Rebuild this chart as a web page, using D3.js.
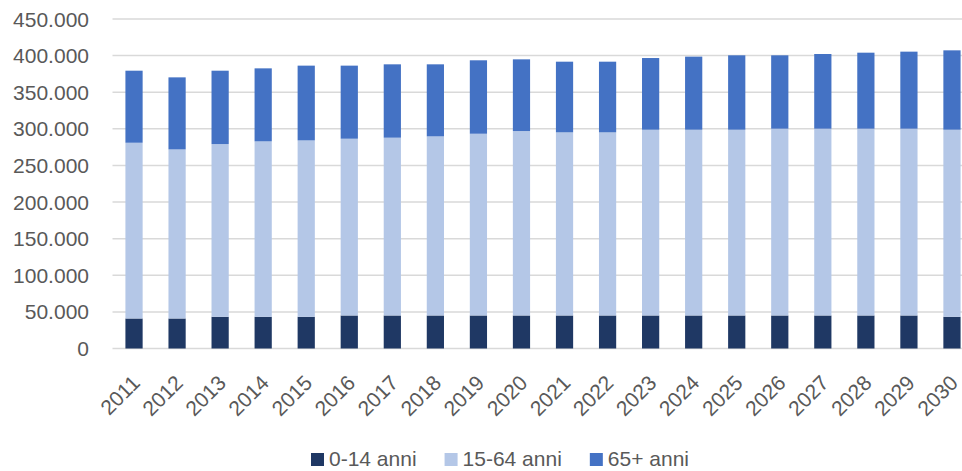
<!DOCTYPE html>
<html>
<head>
<meta charset="utf-8">
<script src="https://cdn.jsdelivr.net/npm/d3@7"></script>
<style>
  body { margin: 0; background: #fff; overflow: hidden; }
  svg { display: block; font-family: "Liberation Sans", Arial, sans-serif; }
</style>
</head>
<body>
<svg id="chart" width="962" height="471"></svg>
<script>
// data
var years = ["2011", "2012", "2013", "2014", "2015", "2016", "2017", "2018", "2019", "2020",
             "2021", "2022", "2023", "2024", "2025", "2026", "2027", "2028", "2029", "2030"];
var young = [41000, 41000, 43300, 43300, 43300, 45100, 45100, 45100, 45100, 45100,
             45100, 45100, 45100, 45100, 45100, 45100, 45100, 45100, 45100, 43300];
var working = [240000, 230900, 235900, 239600, 240900, 241400, 242800, 244600, 248200, 251900,
               250100, 250100, 253700, 253700, 253700, 255100, 255100, 255100, 255100, 255500];
var old = [98400, 98400, 100200, 99700, 102100, 99800, 100200, 98400, 100300, 97900,
           96500, 96500, 97900, 99800, 101600, 100200, 102000, 103800, 105200, 108400];
var seriesNames = ["0-14 anni", "15-64 anni", "65+ anni"];
var yTicks = [0, 50000, 100000, 150000, 200000, 250000, 300000, 350000, 400000, 450000];

var colors = ["#1f3864", "#b4c7e7", "#4472c4"];

var svg = d3.select("#chart");

var rows = years.map(function (y, i) {
    return { year: y, "0-14 anni": young[i], "15-64 anni": working[i], "65+ anni": old[i] };
});

var stacked = d3.stack().keys(seriesNames)(rows);

var x = d3.scaleBand()
    .domain(years)
    .range([112.5, 973.5])
    .paddingInner(0.6)
    .paddingOuter(0.3);

var y = d3.scaleLinear()
    .domain([0, 450000])
    .range([348.5, 19]);

var fmt = function (d) {
    return d3.format(",")(d).replace(/,/g, ".");
};

// gridlines
svg.append("g")
    .selectAll("line")
    .data(yTicks)
    .enter().append("line")
    .attr("x1", 112.5)
    .attr("x2", 973.5)
    .attr("y1", function (d) { return y(d); })
    .attr("y2", function (d) { return y(d); })
    .style("stroke", "#d9d9d9")
    .style("stroke-width", 1.5);

// y tick labels
svg.append("g")
    .selectAll("text")
    .data(yTicks)
    .enter().append("text")
    .attr("x", 89)
    .attr("y", function (d) { return y(d); })
    .attr("dy", "0.36em")
    .attr("text-anchor", "end")
    .style("font-size", "21px")
    .style("fill", "#595959")
    .text(fmt);

// bars
svg.append("g")
    .selectAll("g")
    .data(stacked)
    .enter().append("g")
    .attr("fill", function (d, i) { return colors[i]; })
    .selectAll("rect")
    .data(function (d) { return d; })
    .enter().append("rect")
    .attr("x", function (d) { return x(d.data.year); })
    .attr("width", x.bandwidth())
    .attr("y", function (d) { return y(d[1]); })
    .attr("height", function (d) { return y(d[0]) - y(d[1]); });

// x labels
svg.append("g")
    .selectAll("text")
    .data(years)
    .enter().append("text")
    .attr("transform", function (d) {
        return "translate(" + (x(d) + x.bandwidth() / 2 + 2) + "," + 379 + ") rotate(-45)";
    })
    .attr("text-anchor", "end")
    .attr("dy", "0.35em")
    .style("font-size", "21px")
    .style("fill", "#595959")
    .text(function (d) { return d; });

// legend
var legend = svg.append("g");
var lx = 0;
seriesNames.forEach(function (name, i) {
    var item = legend.append("g").attr("transform", "translate(" + lx + ",0)");
    item.append("rect")
        .attr("x", 0)
        .attr("y", 453)
        .attr("width", 13)
        .attr("height", 13)
        .attr("fill", colors[i]);
    var t = item.append("text")
        .attr("x", 18)
        .attr("y", 466)
        .style("font-size", "21px")
        .style("fill", "#595959")
        .text(name);
    lx += 18 + t.node().getComputedTextLength() + 28;
});
var legendWidth = lx - 28;
legend.attr("transform", "translate(" + (500 - legendWidth / 2) + ",0)");
</script>
</body>
</html>
